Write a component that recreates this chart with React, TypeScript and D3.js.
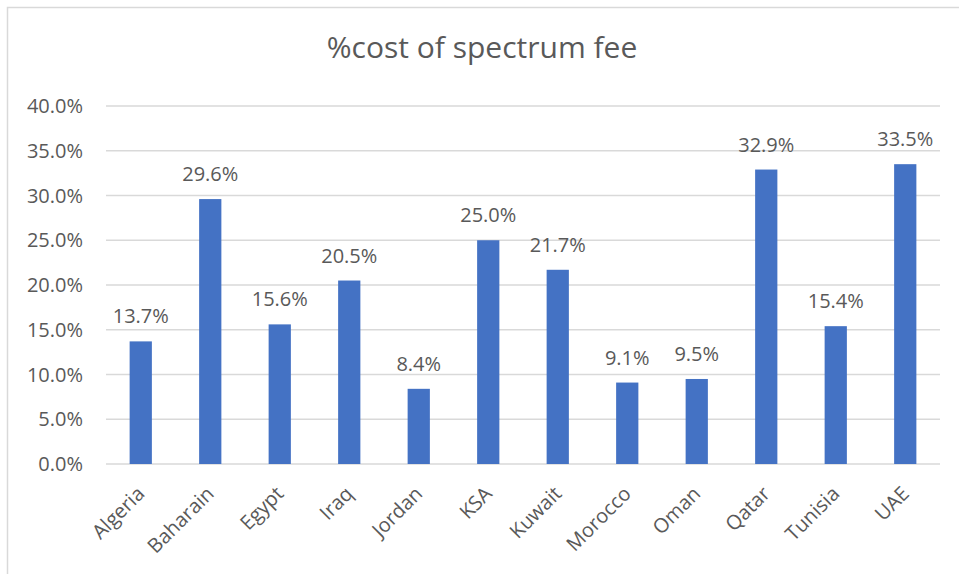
import React from 'react';
import * as d3 from 'd3';

const countries = ['Algeria', 'Baharain', 'Egypt', 'Iraq', 'Jordan', 'KSA', 'Kuwait', 'Morocco', 'Oman', 'Qatar', 'Tunisia', 'UAE'];
const costShare = [0.137, 0.296, 0.156, 0.205, 0.084, 0.25, 0.217, 0.091, 0.095, 0.329, 0.154, 0.335];
const yTicks = [0, 0.05, 0.1, 0.15, 0.2, 0.25, 0.3, 0.35, 0.4];

const W = 959;
const H = 574;
const textColor = '#595959';
const font = '"Open Sans", sans-serif';
const fs = 20;

const App = () => {
  const x = d3.scaleBand<string>()
    .domain(countries)
    .range([106, 940])
    .paddingInner(0.68)
    .paddingOuter(0.34);
  const y = d3.scaleLinear().domain([0, 0.4]).range([464, 106]);
  const pct = d3.format('.1%');

  return (
    <svg width={W} height={H} style={{ position: 'absolute', left: 0, top: 0, background: '#fff' }}>
      <rect x={7.5} y={7.5} width={W + 10} height={H + 10} fill="#fff" stroke="#d9d9d9" strokeWidth={1.5} />
      <text x={482} y={58} textAnchor="middle" fill={textColor} fontFamily={font} fontSize={30}>
        %cost of spectrum fee
      </text>
      {/* gridlines + y labels */}
      {yTicks.map((t) => (
        <g key={t}>
          <line x1={106} x2={940} y1={y(t)} y2={y(t)} stroke="#d9d9d9" strokeWidth={1.5} />
          <text x={83} y={y(t) + 7} textAnchor="end" fill={textColor} fontFamily={font} fontSize={fs}>
            {pct(t)}
          </text>
        </g>
      ))}
      {countries.map((c, i) => {
        const cx = (x(c) as number) + x.bandwidth() / 2;
        return (
          <g key={c}>
            <rect x={x(c)} y={y(costShare[i])} width={x.bandwidth()} height={y(0) - y(costShare[i])} fill="#4472C4" />
            <text x={cx} y={y(costShare[i]) - 18} textAnchor="middle" fill={textColor} fontFamily={font} fontSize={fs}>
              {pct(costShare[i])}
            </text>
            <text
              transform={`translate(${cx + 5},${495}) rotate(-45)`}
              textAnchor="end"
              fill={textColor}
              fontFamily={font}
              fontSize={fs}
            >
              {c}
            </text>
          </g>
        );
      })}
    </svg>
  );
};

export default App;
